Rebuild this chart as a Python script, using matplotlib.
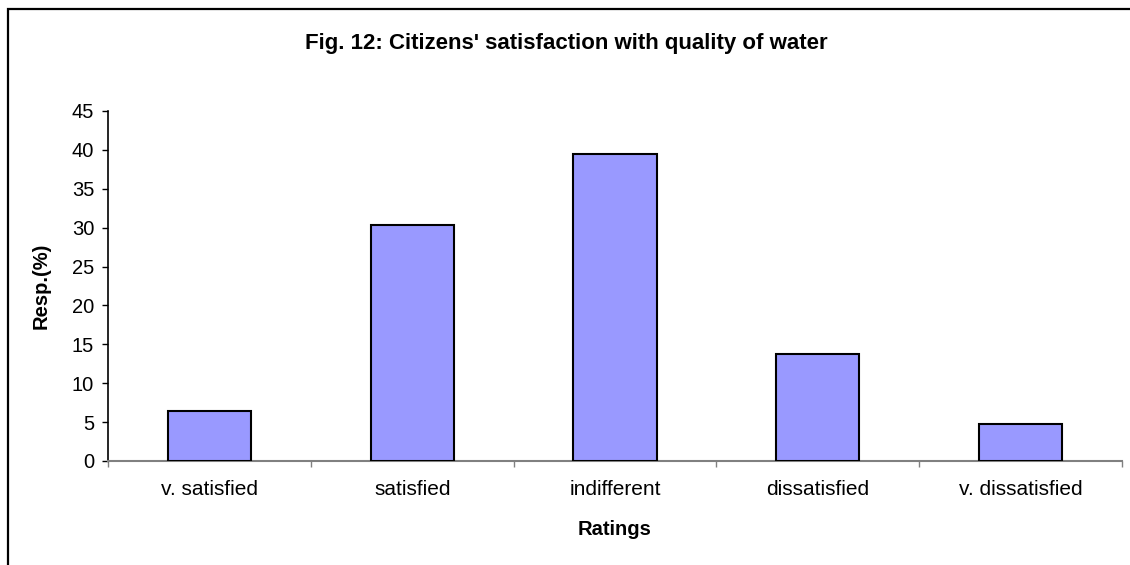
import matplotlib
matplotlib.use("Agg")
import matplotlib.pyplot as plt
from matplotlib.patches import Rectangle

categories = ["v. satisfied", "satisfied", "indifferent", "dissatisfied", "v. dissatisfied"]
values = [6.4, 30.3, 39.5, 13.8, 4.8]
yticks = [0, 5, 10, 15, 20, 25, 30, 35, 40, 45]
title = "Fig. 12: Citizens' satisfaction with quality of water"

plt.rcParams['font.family'] = ['Liberation Sans', 'DejaVu Sans']

fig = plt.figure(figsize=(11.3, 5.65), dpi=100)
W, H = 1130, 565
ax = fig.add_axes([108 / W, 1 - 461 / H, (1122 - 108) / W, (461 - 111) / H])

x = list(range(len(categories)))
ax.bar(x, values, width=0.41, color="#9999FF", edgecolor="black", linewidth=1.5, zorder=3)

ax.set_xlim(-0.5, len(categories) - 0.5)
ax.set_ylim(0, 45)
ax.set_yticks(yticks)
ax.set_yticklabels([str(t) for t in yticks], fontsize=14.5)

ax.set_xticks(x)
ax.set_xticklabels(categories, fontsize=15)
ax.tick_params(axis='x', which='major', length=0, pad=14)
ax.set_xticks([i + 0.5 for i in range(-1, len(categories))], minor=True)
ax.tick_params(axis='x', which='minor', length=4, width=1, color="#808080", direction='out')
ax.tick_params(axis='y', length=4.5, width=1, direction='out', pad=5.5)

for s in ['top', 'right']:
    ax.spines[s].set_visible(False)
ax.spines['left'].set_linewidth(1.2)
ax.spines['bottom'].set_color("#808080")
ax.spines['bottom'].set_linewidth(1.5)

ax.set_ylabel("Resp.(%)", fontsize=14.5, fontweight='bold')
ax.yaxis.set_label_coords(-0.057, 0.5)
ax.set_xlabel("Ratings", fontsize=14.5, fontweight='bold')
ax.xaxis.set_label_coords(0.5, -0.169)

fig.text(566 / W, 1 - 44 / H, title, fontsize=16, fontweight='bold', ha='center', va='center')

fig.patches.append(Rectangle((8 / W, -0.1), 1.2, 1 - 9 / H + 0.1, transform=fig.transFigure,
                             fill=False, edgecolor='black', linewidth=1.6, zorder=10))

fig.savefig("out.png", dpi=100)
